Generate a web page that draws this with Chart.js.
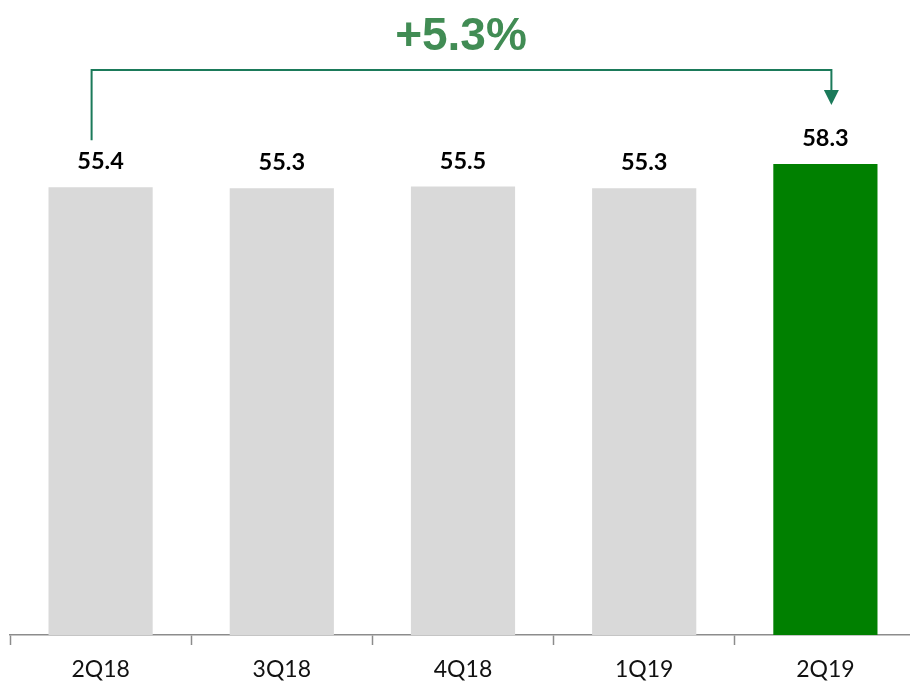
<!DOCTYPE html>
<html>
<head>
<meta charset="utf-8">
<script src="https://cdn.jsdelivr.net/npm/chart.js@4/dist/chart.umd.min.js"></script>
<style>
  html, body { margin: 0; padding: 0; background: #fff; overflow: hidden; }
  #wrap { position: absolute; left: 0; top: 0; width: 916px; height: 682px; }
</style>
</head>
<body>
<div id="wrap"><canvas id="c" width="916" height="682"></canvas></div>
<script>
const categories = ["2Q18", "3Q18", "4Q18", "1Q19", "2Q19"];
const values = [55.4, 55.3, 55.5, 55.3, 58.3];
const barColors = ["#d9d9d9", "#d9d9d9", "#d9d9d9", "#d9d9d9", "#008000"];
const growthLabel = "+5.3%";

const overlay = {
  id: 'overlay',
  afterDatasetsDraw(chart) {
    const ctx = chart.ctx;
    const meta = chart.getDatasetMeta(0);
    ctx.save();
    // value labels
    ctx.fillStyle = '#000';
    ctx.font = 'bold 23.5px Lato';
    ctx.textAlign = 'center';
    ctx.textBaseline = 'alphabetic';
    meta.data.forEach((bar, i) => {
      ctx.fillText(values[i].toFixed(1), bar.x, bar.y - 18);
    });
    // bracket
    const b0 = meta.data[0], b4 = meta.data[4];
    const xl = b0.x - 9, xr = b4.x + 6;
    const yTop = 70;
    ctx.strokeStyle = '#1b7a5a';
    ctx.lineWidth = 2;
    ctx.beginPath();
    ctx.moveTo(xl, b0.y - 47);
    ctx.lineTo(xl, yTop);
    ctx.lineTo(xr, yTop);
    ctx.lineTo(xr, 92);
    ctx.stroke();
    ctx.fillStyle = '#1b7a5a';
    ctx.beginPath();
    ctx.moveTo(xr - 7.5, 90);
    ctx.lineTo(xr + 7.5, 90);
    ctx.lineTo(xr, 105);
    ctx.closePath();
    ctx.fill();
    // title
    ctx.fillStyle = '#418c54';
    ctx.font = 'bold 46px "Liberation Sans", Arial';
    ctx.textAlign = 'center';
    ctx.textBaseline = 'alphabetic';
    ctx.fillText(growthLabel, 461, 50);
    ctx.restore();
  }
};

new Chart(document.getElementById('c'), {
  type: 'bar',
  data: {
    labels: categories,
    datasets: [{
      data: values,
      backgroundColor: barColors,
      borderWidth: 0,
      barPercentage: 0.575,
      categoryPercentage: 1.0
    }]
  },
  options: {
    responsive: false,
    animation: false,
    events: [],
    layout: { padding: { top: 29, left: 10, right: 0, bottom: 0 } },
    plugins: { legend: { display: false }, tooltip: { enabled: false } },
    scales: {
      y: {
        display: false,
        min: 0,
        max: 75
      },
      x: {
        afterFit(scale) { scale.height = 47; },
        border: { display: true, color: '#8c8c8c', width: 1.5 },
        grid: {
          display: true,
          offset: true,
          drawOnChartArea: false,
          drawTicks: true,
          tickLength: 10,
          tickWidth: 1.5,
          tickColor: '#8c8c8c'
        },
        ticks: {
          color: '#111',
          font: { family: 'Lato', size: 23 },
          padding: 11
        }
      }
    }
  },
  plugins: [overlay]
});
</script>
</body>
</html>
